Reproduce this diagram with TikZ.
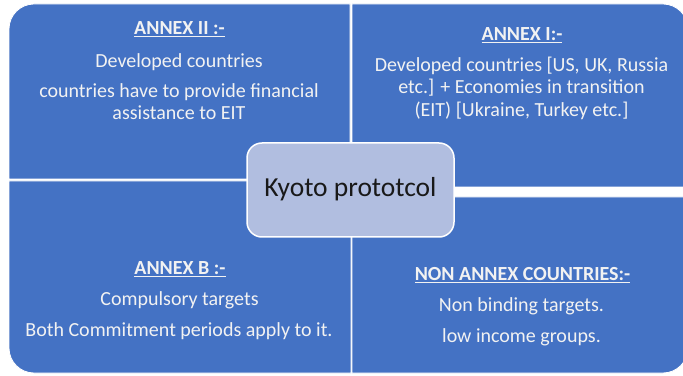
\documentclass[tikz,border=0pt]{standalone}
\usepackage{fontspec}
\setmainfont{Carlito}
\definecolor{quadblue}{HTML}{4472C4}
\definecolor{centerfill}{HTML}{B1BEE0}
\definecolor{txt}{HTML}{F2F2F2}
\tikzset{
  quad/.style={fill=quadblue, draw=white, line width=0.8pt},
  body/.style={anchor=base, text=txt, inner sep=0pt, font=\fontsize{20}{24}\selectfont},
  head/.style={body, font=\fontsize{20}{24}\selectfont\bfseries},
  center box/.style={fill=centerfill, draw=white, line width=1.5pt, rounded corners=15pt,
    minimum width=207pt, minimum height=94pt, inner sep=0pt,
    font=\fontsize{27.5}{32}\selectfont, text=black!90}
}
\begin{document}
\begin{tikzpicture}[x=1pt,y=1pt]
\useasboundingbox (0,0) rectangle (683,375);
\fill[white] (0,0) rectangle (683,375);
% quadrants
\path[quad] (350,196) -- (9,196) -- (9,346) arc[start angle=180,end angle=90,radius=25] -- (350,371) -- cycle;
\path[quad] (351,194) -- (9,194) -- (9,27) arc[start angle=180,end angle=270,radius=25] -- (351,2) -- cycle;
\path[quad] (352,188) -- (352,371) -- (663,371) arc[start angle=90,end angle=0,radius=25] -- (688,188) -- cycle;
\path[quad] (352,178) -- (352,2) -- (663,2) arc[start angle=270,end angle=360,radius=25] -- (688,178) -- cycle;
% center
\node[center box] (kyoto) at (350.5,185) {};
\node[anchor=base, inner sep=0pt, font=\fontsize{27.5}{32}\selectfont, text=black!90] (kyototext) at (350.5,178) {Kyoto prototcol};
% top-left
\node[head] (a2h) at (179.5,340) {\underline{ANNEX II :-}};
\node[body] (a2l1) at (179,307) {Developed countries};
\node[body] (a2l2) at (179,277) {countries have to provide financial};
\node[body] (a2l3) at (179,255) {assistance to EIT};
% top-right
\node[head] (a1h) at (522,334) {\underline{ANNEX I:-}};
\node[body] (a1l1) at (521.5,303) {Developed countries [US, UK, Russia};
\node[body] (a1l2) at (521.5,281) {etc.] + Economies in transition};
\node[body] (a1l3) at (521.5,258) {(EIT) [Ukraine, Turkey etc.]};
% bottom-left
\node[head] (bh) at (180,100) {\underline{ANNEX B :-}};
\node[body] (bl1) at (179.5,69) {Compulsory targets};
\node[body] (bl2) at (179,38) {Both Commitment periods apply to it.};
% bottom-right
\node[head] (nh) at (522.5,94) {\underline{NON ANNEX COUNTRIES:-}};
\node[body] (nl1) at (521.5,63) {Non binding targets.};
\node[body] (nl2) at (521.5,32) {low income groups.};
\end{tikzpicture}
\end{document}
